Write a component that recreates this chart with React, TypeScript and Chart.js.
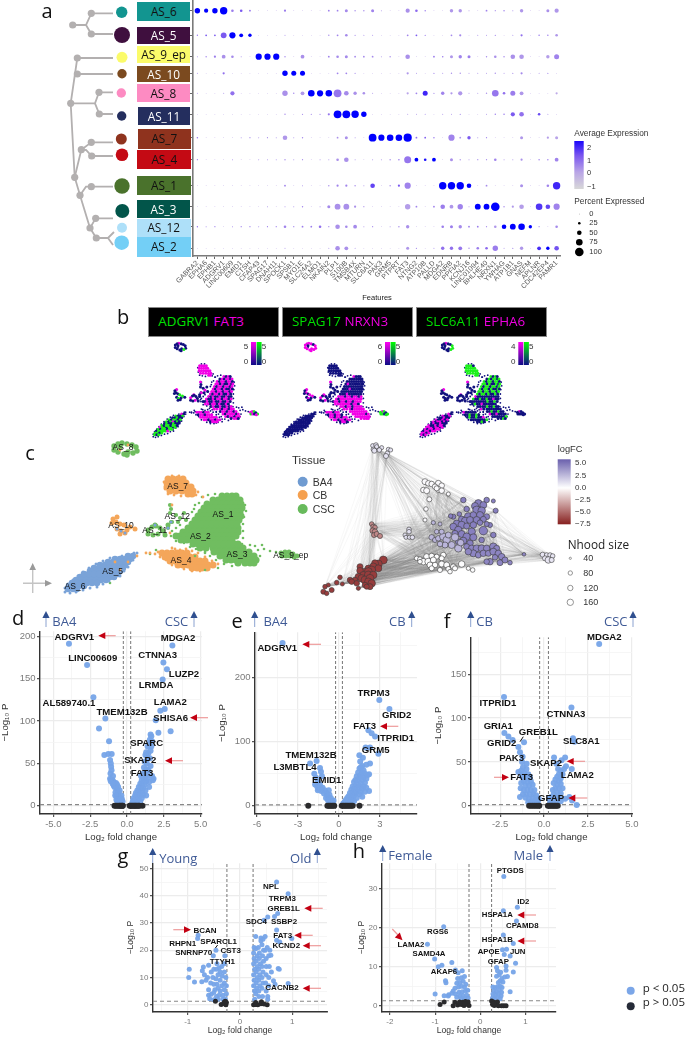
import React, { useEffect, useRef } from "react";
import { Chart, registerables } from "chart.js";

Chart.register(...registerables);
Chart.defaults.font.family = "'Liberation Sans', Arial, sans-serif";

// ---------- panel a : dot plot ----------
const genes = ["GABRA2","EPHA6","EPHB1","ADGRV1","LINC00609","EMID1","CTSH","CFAP43","SPAG17","DNAH11","SPOCK1","SPSB1","MYO1E","SLC24A2","ELMO1","NKAIN2","PLP1","S100B","TMSB4X","MTURN","SLC6A11","PAK3","GRM5","PTPRT","FAT3","NTNG2","ATP10B","PALLD","MDGA2","EDNRB","PPFIA2","KCNJ16","LINC01094","BHLHE40","NRXN1","YWHAG","ATP1B1","GNAS","NEFM","APLNR","CDC42EP4","PAMR1"];
const clusterNames = ["AS_6","AS_5","AS_9_ep","AS_10","AS_8","AS_11","AS_7","AS_4","AS_1","AS_3","AS_12","AS_2"];
const rowCentres = [10.7,35.3,56.7,73.3,93.3,114.3,137.7,159.7,185.7,206.7,226.7,248.3];
const as6Pct = [60,45,60,85,25,25,15,3,3,3,20,3,3,3,3,15,15,30,10,10,30,5,3,3,45,25,10,3,3,35,35,5,3,15,8,10,5,35,3,3,30,45];
const as6Expr = [2.4,2.4,2.4,2.4,.7,1.2,.8,0,0,0,.7,0,0,0,0,.6,.6,.5,.5,.5,.6,.3,0,0,.4,1,.8,0,0,.3,.3,.3,0,.6,.5,.7,.5,.3,0,0,.4,.3];
const as5Pct = [10,15,15,65,70,40,35,3,3,3,5,3,3,3,3,10,15,25,8,5,5,3,3,3,15,15,8,3,3,15,20,3,5,5,8,3,5,20,3,10,10,25];
const as5Expr = [.8,1.2,1.2,1.2,2.4,2.4,2.4,0,0,0,.5,0,0,0,0,.5,.6,.5,.5,.5,.5,0,0,0,.6,1.2,.8,0,0,.5,.5,0,.5,.5,.7,0,.5,.9,0,.9,.8,.3];
const as9Pct = [5,10,20,40,25,5,3,70,70,70,10,3,40,3,3,15,25,30,15,15,15,5,10,3,50,3,3,15,12,30,35,30,3,10,25,10,50,50,3,3,35,55];
const as9Expr = [.5,.6,.7,.4,.5,.5,0,2.4,2.4,2.4,.6,0,.4,0,0,.6,.5,.5,.5,.5,.5,.3,.5,0,.4,0,0,.7,.7,.3,.6,.7,0,.5,.4,.6,.4,.3,0,0,.2,.6];
const as10Pct = [5,3,3,20,3,3,3,3,3,3,60,55,55,3,3,3,15,15,8,3,3,3,3,3,20,5,3,8,5,10,10,5,5,5,10,5,8,20,3,5,8,3];
const as10Expr = [.5,0,0,.9,0,0,0,0,0,0,2.4,2.4,2.4,0,0,0,.6,.6,.5,0,0,0,0,0,.3,.5,0,.6,.5,.4,.4,.4,.4,.4,.4,.4,.4,.5,0,.4,.5,0];
const as8Pct = [5,3,3,5,45,3,3,3,3,3,60,10,40,75,70,75,90,50,35,25,5,3,3,3,20,15,55,8,35,20,45,5,5,10,75,25,55,40,3,3,3,20];
const as8Expr = [.4,0,0,.4,.9,0,0,0,0,0,.4,.6,.3,2.4,2.4,2.4,.8,.5,.4,.4,.4,0,0,0,.1,.6,1.9,.5,.6,.3,.3,.3,.3,.4,.8,.9,.7,.3,0,0,0,0];
const as11Pct = [3,3,3,3,3,3,3,3,3,3,10,3,8,8,8,20,90,90,85,60,3,3,3,3,5,5,5,3,5,5,8,3,3,5,10,10,45,50,3,25,5,3];
const as11Expr = [0,0,0,0,0,0,0,0,0,0,.5,0,.5,.5,.5,.8,2.4,2.4,2.4,2.4,0,0,0,0,.3,.3,.5,0,.4,.4,.5,0,0,.4,.7,.9,1.2,.9,0,1.4,.4,0];
const as7Pct = [12,3,3,3,3,5,8,5,8,5,50,5,10,3,3,3,15,30,5,3,90,70,75,75,95,15,15,10,3,70,15,35,5,8,3,3,3,30,3,3,20,30];
const as7Expr = [.8,0,0,0,0,.4,.5,.4,.5,.4,.3,.4,.5,0,0,0,.4,.4,.4,0,2.4,2.4,2.4,2.4,2.4,.9,1.1,.9,0,.6,.3,1.2,.5,.6,0,0,0,.3,0,0,.2,.1];
const as4Pct = [8,3,3,3,5,3,3,5,5,5,10,5,8,3,5,5,25,50,5,3,5,5,10,12,80,40,25,40,3,30,10,5,8,8,25,5,5,20,3,10,10,40];
const as4Expr = [.7,0,0,0,.4,0,0,.4,.4,.4,.5,.4,.5,0,.4,.4,.4,.4,.4,0,.4,.4,.5,.7,.8,2.4,2.2,2.4,0,.4,.3,.4,.5,.5,.6,.4,.4,.4,0,.7,.7,.6];
const as1Pct = [3,3,3,3,3,3,3,3,3,3,15,3,5,3,3,10,20,20,10,5,50,3,10,20,70,3,3,3,85,85,85,50,3,15,3,3,3,30,3,3,25,85];
const as1Expr = [0,0,0,0,0,0,0,0,0,0,.6,0,.4,0,0,.5,.6,.6,.5,.4,1.5,0,.5,1.2,.6,0,0,0,2.4,2.4,2.4,2.4,0,.5,0,0,0,.4,0,0,.6,1.9];
const as3Pct = [3,3,3,3,3,3,3,3,5,3,5,5,10,3,5,30,65,65,20,8,3,3,3,3,60,15,3,15,50,40,60,5,65,65,100,10,20,50,3,75,50,70];
const as3Expr = [0,0,0,0,0,0,0,0,.4,0,.4,.4,.6,0,.4,.5,.4,.4,.4,.4,0,0,0,0,.2,.6,0,.6,.7,.3,.6,.4,2.4,2.4,2.4,.5,.3,.2,0,1.7,1.5,.6];
const as12Pct = [10,5,8,3,5,8,8,5,8,8,25,8,15,15,25,8,50,25,40,5,8,3,5,10,35,3,3,3,25,30,35,15,15,8,25,50,65,75,35,8,3,25];
const as12Expr = [.9,.6,.7,0,.6,.7,.7,.6,.7,.7,.6,.7,.7,.7,.9,.6,.4,.5,.5,.4,.5,0,.4,.5,.4,0,0,0,.7,.7,.5,.7,.7,.5,.3,2.4,2.4,2.4,2.4,.5,0,.5];
const as2Pct = [3,3,3,3,3,3,3,3,3,3,5,3,3,3,3,5,50,40,5,3,3,3,3,3,30,8,3,5,35,35,40,10,25,25,60,5,8,35,3,40,35,50];
const as2Expr = [0,0,0,0,0,0,0,0,0,0,.4,0,0,0,0,.4,.4,.4,.4,0,0,0,0,0,.3,.6,0,.5,.9,.9,.8,.5,.7,1,.7,.4,.5,.3,0,1.8,2.4,1.3];
const pctRows = [as6Pct,as5Pct,as9Pct,as10Pct,as8Pct,as11Pct,as7Pct,as4Pct,as1Pct,as3Pct,as12Pct,as2Pct];
const exprRows = [as6Expr,as5Expr,as9Expr,as10Expr,as8Expr,as11Expr,as7Expr,as4Expr,as1Expr,as3Expr,as12Expr,as2Expr];

// ---------- panels b, c : UMAP points, rows of [umapY, umapX...] ----------
const as1Rows = [[496,222,227,232,236],[500,213,218,223,228,233,237,240],[504,207,212,217,222,227,232,237,241],[508,204,209,214,219,224,229,234,239,242],[512,201,206,211,216,221,226,231,236,240],[516,198,203,208,213,218,223,228,233,238,241],[520,195,200,205,210,215,220,225,230,235,239],[524,192,197,202,207,212,217,222,227,232,237]];
const as2Rows = [[528,188,193,198,203,208,213,218,223,228,233,238],[532,183,188,193,198,203,208,213,218,223,228,233,238],[536,176,180,185,190,195,200,205,210,215,220,225,230,236],[540,181,187,192,197,202,207,212,217,222,227,232],[544,193,198,204,209,214,219,224,229,234,238]];
const as3Rows = [[548,200,206,213,218,223,228,233,238,243],[552,214,219,224,229,234,239,244,249],[556,220,225,230,235,240,245,250,254],[560,226,231,236,241,246,251,256],[563,238,245,250,254]];
const as9Rows = [[552,285,289],[553,281],[554,293],[556,282,286,290,297],[557,294]];
const as4Rows = [[553,162,167,172,177,182,187],[557,165,170,175,180,185,190,195],[561,170,175,180,185,190,195,200,205],[565,178,183,188,193,198,203,208,213],[568,192,197,202,207]];
const as7Rows = [[479,168,173,178,183],[483,167,172,177,182,186],[487,167,172,177,182,187,191],[491,170,176,182,188,193],[494,188,192]];
const as8Rows = [[443,122],[444,118,127],[445,132],[446,114],[447,136,120],[450,114],[451,137],[452,118,128],[453,133],[454,124],[455,127]];
const as10Rows = [[517,117],[519,113],[522,116],[523,112],[524,120],[525,124],[529,117],[530,127],[531,121],[533,125],[534,120],[527,130],[529,135]];
const as11Rows = [[525,155,168],[526,156],[527,152],[528,160],[530,148],[531,163],[534,148,158],[535,153,165]];
const as12Rows = [[505,170],[509,171],[513,170,184],[515,176],[518,180],[520,186],[522,171,172,178],[528,168]];
const as5Rows = [[556,128,133],[559,115,120,125,130],[562,108,113,118,123,128],[565,100,105,110,115,120,125],[568,94,99,104,109,114,119,123],[571,90,95,100,105,110,115,120],[574,84,89,94,99,104,109,114,118]];
const as6Rows = [[577,80,85,90,95,100,105,110,114],[580,76,81,86,91,96,101,106],[583,72,77,82,87,92,97],[586,69,74,79,84],[589,68,73,77]];
const dustGreen = [[202,497],[208,495],[215,494],[195,505],[199,503],[192,512],[194,509],[186,520],[180,525],[176,528],[172,531],[245,505],[246,511],[244,517],[243,524],[243,531],[243,538],[242,544],[171,536],[176,541],[184,543],[190,547],[196,549],[205,552],[210,556],[216,560],[224,564],[232,566],[258,550],[262,545],[250,545],[255,546],[264,549],[270,551],[276,552],[260,556],[258,560],[195,556],[205,553],[218,568],[180,518],[205,570],[150,554],[156,550],[110,583]];
const dustOrange = [[150,553],[155,554],[158,552],[175,549],[180,550],[172,548],[186,549],[192,551],[198,553],[205,557],[212,561],[218,564],[160,557],[166,560],[172,565],[184,569],[192,571],[200,571],[209,569],[198,492],[203,497],[196,495],[164,482],[165,489],[168,494],[174,495],[181,496],[172,476],[179,476],[128,445],[120,450],[115,562],[120,570],[128,562],[137,556],[146,553],[170,533],[172,505]];
const dustBlue = [[117,529],[121,531],[125,533],[155,525],[171,522],[168,528],[137,553],[134,553],[122,556],[110,558],[103,561],[96,564],[89,568],[83,572],[78,576],[73,580],[68,584],[65,588],[65,592],[70,593],[76,592],[83,590],[90,588],[97,587],[103,584],[109,581],[115,578],[120,576],[124,571],[128,567],[133,560]];

const umapClusters = [
  { key: "as1", rows: as1Rows, tissue: "CSC", r: 3 },
  { key: "as2", rows: as2Rows, tissue: "CSC", r: 3 },
  { key: "as3", rows: as3Rows, tissue: "CSC", r: 3 },
  { key: "as9", rows: as9Rows, tissue: "CSC", r: 2 },
  { key: "as4", rows: as4Rows, tissue: "CB", r: 3 },
  { key: "as7", rows: as7Rows, tissue: "CB", r: 3 },
  { key: "as8", rows: as8Rows, tissue: "CSC", r: 2.2 },
  { key: "as10", rows: as10Rows, tissue: "CB", r: 2 },
  { key: "as11", rows: as11Rows, tissue: "CSC", r: 2 },
  { key: "as12", rows: as12Rows, tissue: "CSC", r: 1.6 },
  { key: "as5", rows: as5Rows, tissue: "BA4", r: 2.8 },
  { key: "as6", rows: as6Rows, tissue: "BA4", r: 2.8 },
];
// share of cells [background navy, magenta gene, green gene] in each cluster
const panelB1 = { as1:[.4,.6,0], as2:[.55,.45,0], as3:[.3,.7,0], as9:[.3,.5,.2], as4:[.15,.85,0], as7:[0,1,0], as8:[.8,.1,.1], as10:[.7,.05,.25], as11:[.7,.3,0], as12:[.7,.3,0], as5:[.5,.05,.45], as6:[.3,.05,.65] };
const panelB2 = { as1:[.95,.05,0], as2:[.2,.8,0], as3:[.05,.95,0], as9:[.1,.1,.8], as4:[.3,.7,0], as7:[1,0,0], as8:[.1,.9,0], as10:[.55,.45,0], as11:[.6,.4,0], as12:[.8,.2,0], as5:[1,0,0], as6:[1,0,0] };
const panelB3 = { as1:[.4,0,.6], as2:[.85,.05,.1], as3:[.8,.1,.1], as9:[.85,.1,.05], as4:[.75,.05,.2], as7:[.05,0,.95], as8:[.7,.05,.25], as10:[.9,.05,.05], as11:[.9,.05,.05], as12:[.8,.1,.1], as5:[.55,.45,0], as6:[.3,.7,0] };

// ---------- panel c right : neighbourhood graph, groups of [layoutX, layoutY, size] ----------
const nhTop = [[128,77,40],[138,75,50],[130,88,50],[143,85,40],[133,92,60],[155,83,40],[148,90,50],[175,88,40],[182,90,40],[172,100,50],[168,108,60],[140,80,40]];
const nh7 = [[285,185,80],[295,190,70],[305,192,70],[325,190,80],[335,197,70],[315,200,70],[325,208,80],[335,212,70],[280,210,70],[290,212,80],[320,205,60],[298,238,60],[355,222,40],[288,267,50],[285,300,40]];
const nh1 = [[400,240,70],[470,240,70],[490,243,40],[445,250,110],[435,258,100],[460,255,100],[410,267,70],[440,270,120],[455,272,110],[497,272,60],[388,282,50],[415,290,120],[430,285,90],[450,285,100],[470,290,80],[395,298,90],[405,302,100],[370,290,60],[362,288,50],[420,300,100],[440,300,100],[460,298,80],[380,310,90],[395,315,110],[410,318,80],[430,315,90],[450,308,70],[480,315,60],[470,312,60],[370,320,100],[385,330,110],[425,335,110],[460,332,130],[490,345,70],[375,340,80],[395,342,100],[410,350,110],[430,352,100],[455,360,70],[400,362,100],[385,365,80],[420,370,90]];
const nh2 = [[310,308,40],[330,312,40],[305,352,70],[315,360,60],[325,355,70],[340,350,110],[350,360,110],[355,345,80],[320,335,50],[335,335,60],[365,375,100],[345,375,80],[330,372,70],[385,385,110],[375,352,110],[392,368,90]];
const nh3 = [[410,380,80],[425,385,90],[440,385,100],[455,385,100],[470,385,90],[490,380,110],[500,385,80],[430,400,100],[445,405,80],[460,400,90],[415,395,90],[475,400,80],[490,395,100],[505,400,90],[515,410,90],[480,425,90],[470,425,70],[510,428,80],[525,420,80],[495,412,70],[540,428,50],[582,403,30]];
const nh4 = [[260,415,50],[270,418,60],[290,410,80],[305,408,70],[320,410,60],[280,425,90],[295,425,100],[310,420,80],[300,435,80],[315,435,70],[340,405,70],[335,415,60],[305,445,60],[335,432,80],[350,435,80],[370,440,70],[395,432,90],[355,447,60],[375,445,60],[415,445,40],[428,450,50],[330,450,60],[360,455,50],[270,425,50]];
const nh9 = [[638,404,60],[650,405,50],[660,405,50],[668,408,50],[645,415,60],[655,420,90],[665,420,60]];
const nh10 = [[237,328,50],[237,335,50],[225,345,40],[228,352,40],[238,352,40],[247,352,50]];
const nh8 = [[125,312,50],[130,320,60],[135,322,50],[128,332,70],[135,335,70],[132,345,60],[140,342,60],[150,348,60]];
const nh5 = [[160,420,120],[145,432,120],[135,430,100],[130,440,110],[90,440,80],[145,445,100],[115,445,90],[125,450,120],[105,455,100],[90,452,90],[115,455,120],[100,465,100],[115,465,120],[130,465,110],[85,470,90],[95,475,110],[105,480,120],[120,475,120],[115,485,110],[125,490,110],[120,500,80],[105,495,70],[110,500,60],[75,480,70],[60,480,70],[65,485,70],[80,490,70],[85,505,40],[30,472,50],[20,488,50],[37,492,40],[5,510,60],[-5,495,40],[-15,500,50],[-20,515,60],[-10,520,50]];
const nhGroups = [
  { nodes: nhTop, fc: 0.9 }, { nodes: nh7, fc: 0.15 }, { nodes: nh1, fc: 4 }, { nodes: nh2, fc: 2.3 },
  { nodes: nh3, fc: 3.8 }, { nodes: nh4, fc: 0.1 }, { nodes: nh9, fc: 0.8 }, { nodes: nh10, fc: 1 },
  { nodes: nh8, fc: -4 }, { nodes: nh5, fc: -6.5 },
];
const nhLinks = [[0,2],[0,3],[0,3],[0,5],[0,8],[1,2],[1,3],[1,4],[1,5],[1,3],[2,3],[2,4],[2,4],[2,5],[3,4],[3,5],[3,5],[4,5],[4,5],[8,2],[8,3],[8,5],[9,3],[9,4],[9,5],[9,5],[9,5],[9,2],[9,8],[6,2],[6,4],[6,5],[7,2],[7,3],[7,5],[7,1],[9,0]];

// ---------- volcano panels ----------
const dSig = [[-3.94,191],[-2.71,166],[-2.28,128],[-1.47,103],[-1.9,91],[-1.22,76],[-1.54,60],[-1.27,61],[-1.04,61],[-1.15,54],[-1.1,50],[-1.08,46],[-1.05,42],[-1.12,38],[-1.15,32],[-1.05,31],[-0.98,30],[-0.95,35],[-0.9,28],[-1.1,29],[-0.75,27],[-0.68,25],[-0.72,21],[-0.65,18],[-0.78,16],[-0.6,15],[-0.7,12],[-0.55,11],[-0.62,9],[-0.5,7],[-0.45,5],[-0.55,4],[-0.4,3],[-0.38,12],[-0.35,8],[-0.85,22],[-0.6,22],[-0.5,18],[-0.8,12],[-0.3,5],[-0.72,7],[-0.65,5],[-0.9,24],[-0.97,26],
  [3.08,189],[2.47,169],[2.71,161],[2.42,149],[2.56,114],[2.26,112],[1.95,101],[2.13,86],[2.96,88],
  [0.35,3],[0.4,6],[0.45,9],[0.5,5],[0.55,12],[0.6,8],[0.6,15],[0.65,11],[0.7,18],[0.7,6],[0.75,14],[0.8,22],[0.8,10],[0.85,18],[0.9,26],[0.9,13],[0.95,22],[1,30],[1,17],[1,9],[1.05,26],[1.1,34],[1.1,21],[1.1,13],[1.15,30],[1.2,38],[1.2,25],[1.25,34],[1.25,18],[1.3,43],[1.3,29],[1.35,50],[1.35,38],[1.4,33],[1.15,45],[1.2,52],[1.25,60],[1.35,58],[1.45,62],[1.3,63],[1.55,56],[1.6,65],[1.4,70],[1.5,73],[1.55,78],[1.6,84],[1.65,82],[1.7,76],[1.65,70],[1.6,47],[1.7,35],[1.75,30],[1.8,32],[1.5,28],[1.05,38],[0.95,35],[1.45,42],[1.5,22],[1.3,12],[0.9,5]];
const dNs = [[-0.85,0],[-0.75,0],[-0.65,0],[-0.55,0],[-0.48,0],[-0.4,0],[-0.33,0],[-0.28,0],[0.18,0],[0.25,0],[0.32,0],[0.4,0],[0.48,0],[0.55,0],[0.62,0],[0.7,0],[0.78,0],[0.85,0],[1.05,0]];
const eSig = [[-4.13,254],[-1.64,70],[-2.12,66],[-1.39,59],[-1.81,50],[-1.32,53],[-1.25,46],[-1.7,44],[-1.55,38],[-1.75,33],[-1.4,33],[-1.6,30],[-1.5,26],[-1.2,28],[-1.3,23],[-1.05,24],[-1.55,24],[-0.75,24],[-0.9,20],[-1.1,19],[-0.85,15],[-0.7,17],[-0.95,12],[-0.6,12],[-0.75,10],[-0.55,8],[-0.65,6],[-0.45,5],[-1.35,27],[-0.5,3],[-0.8,8],[-0.4,8],
  [2.95,165],[3.69,151],[2.15,118],[2.39,113],[2.64,108],[1.95,91],[2.88,81],[2.27,91],[1.49,79],[2.2,23],[2.27,66],[2.2,49],[1.55,69],[1.75,75],
  [0.3,3],[0.4,6],[0.5,9],[0.5,3],[0.6,12],[0.6,6],[0.7,15],[0.7,9],[0.8,20],[0.8,12],[0.8,5],[0.9,25],[0.9,16],[0.9,8],[1,30],[1,21],[1,12],[1.1,37],[1.1,27],[1.1,16],[1.1,7],[1.2,40],[1.2,30],[1.2,20],[1.3,46],[1.3,34],[1.3,22],[1.3,12],[1.4,52],[1.4,40],[1.4,27],[1.5,58],[1.5,44],[1.5,31],[1.5,18],[1.6,60],[1.6,48],[1.6,35],[1.6,22],[1.7,62],[1.7,52],[1.7,40],[1.7,27],[1.7,14],[1.8,55],[1.8,44],[1.8,30],[1.9,50],[1.9,36],[1.9,22],[2,64],[2,42],[2,28],[2.1,48]];
const eNs = [[-2.25,0],[-0.85,0],[-0.75,0],[-0.65,0],[-0.55,0],[-0.45,0],[-0.35,0],[0.2,0],[0.3,0],[0.4,0],[0.5,0],[0.6,0],[0.7,0],[0.8,0],[0.9,0],[1,0],[1.5,0]];
const fSig = [[-2.28,124],[-2.26,83],[-2.03,79],[-1.79,75],[-1.14,72.5],[-1.46,67],[-1.37,61],[-1.22,56],[-1.25,50],[-0.99,48],[-1.2,44],[-1,42],[-1.3,40],[-1.46,38.5],[-1.15,37],[-0.9,36],[-1.25,33],[-1,32],[-0.8,33],[-1.15,28],[-0.95,27],[-0.75,28],[-1.3,26],[-1.05,23],[-0.85,23],[-0.65,24],[-1.33,20],[-1.15,18],[-0.95,18],[-0.75,18],[-0.55,18],[-1.2,13],[-1,13],[-0.8,13],[-0.6,13],[-0.45,12],[-1.37,10],[-1.05,9],[-0.85,8],[-0.65,8],[-0.5,7],[-0.35,5],[-0.75,4],[-0.55,4],[-0.9,4],[-0.4,3],[-0.3,8],
  [3.14,184.5],[1.56,112],[1.65,77],[1.73,73],[0.57,55],[1.2,55],[1,52],[0.7,48],[1.14,42],[1.58,42],[0.95,40],[0.8,42],[1.25,45],[0.85,36],[1.05,36],[0.75,33],[0.95,31],[0.65,30],[0.85,28],[0.55,26],[0.75,24],[0.95,25],[0.65,20],[0.85,20],[1.05,20],[0.5,18],[0.75,15],[0.95,14],[0.55,13],[0.4,10],[0.65,10],[0.85,9],[1.44,10],[1.2,8],[1.6,6],[1.86,1],[0.45,5],[0.35,4],[0.7,5],[0.3,8],[0.95,5]];
const fNs = [[-0.85,0],[-0.75,0],[-0.65,0],[-0.55,0],[-0.45,0],[-0.35,0],[-0.27,0],[0.22,0],[0.3,0],[0.38,0],[0.46,0],[0.54,0],[0.62,0],[0.7,0],[0.78,0]];
const gSig = [[-.8,25.5],[-.81,24.3],[-.46,20],[-.29,18],[-.51,18],[-.6,14.5],[-.97,13],[-.98,10],[-.87,8.3],[-.73,8.4],[-.7,13.8],[-.72,12.5],[-.68,11],[-.62,10],[-.65,9],[-.55,12],[-.52,10],[-.5,13],[-.45,13],[-.4,13.5],[-.38,12],[-.42,11],[-.46,9.5],[-.56,8],[-.5,7.5],[-.44,7.5],[-.38,9],[-.34,10.5],[-.3,12],[-.27,10],[-.3,8],[-.35,7],[-.42,6],[-.48,5.5],[-.38,5],[-.3,5.5],[-.26,7],[-.26,4],[-.33,3.5],[-.4,3.5],[-.45,3],[-.55,3.8],[-.6,3.5],[-.58,2.2],[-.5,1.8],[-.42,2],[-.33,2],[-.28,2.2],[-.5,4.5],[-.6,5.5],[-.35,14],[-.3,15],[-.44,15],
  [.7,45],[.92,40.7],[.72,33.5],[.66,32.4],[.53,32.2],[.46,31],[.7,27.4],[.76,23],[.7,23.7],[.99,24.3],[.59,18.2],[.92,7.8],[.64,8.8],[.67,7.5],[.73,13.3],[.75,13],[.6,12],
  [.28,5],[.26,7],[.27,9],[.26,11],[.28,13],[.26,15],[.27,17],[.26,19],[.27,21],[.3,20.5],[.28,2],[.3,4],[.32,6],[.31,8],[.33,10],[.31,12],[.33,14],[.31,16],[.33,18],[.36,3],[.36,5],[.38,7],[.36,9],[.38,11],[.36,13],[.39,15],[.37,17],[.37,19],[.35,21],[.3,25],[.4,23.5],[.4,24.5],[.43,3],[.42,6],[.44,8],[.42,10],[.44,12],[.42,14],[.45,16],[.43,18],[.45,20],[.42,22],[.44,24],[.48,25],[.5,5],[.49,8],[.5,11],[.5,14],[.5,17],[.48,20],[.52,21],[.55,18],[.56,14],[.55,10],[.57,20],[.53,3],[.55,7],[.53,2]];
const gNs = [[-.47,1.3],[-.36,0.1],[-.3,1],[-.27,0],[-.29,0.4],[-.26,.8],[-.28,1.3],[.26,0],[.3,.1],[.3,.8],[.34,0],[.41,1.1],[.4,.4],[.52,0],[.46,.3]];
const hSig = [[-1.17,15.8],[-.81,20.3],[-1.01,12],[-.85,10.4],[-.93,10],[-.63,11.1],[-1,3],[-.8,2.6],[-.71,2.5],[-.77,6.4],[-.76,5.9],[-.4,9],[-.49,8.5],[-.55,9.2],[-.5,7],[-.42,7.2],[-.35,7.5],[-.52,5.8],[-.45,6],[-.38,6.3],[-.32,5.5],[-.56,4.5],[-.48,4.8],[-.42,5],[-.35,4.8],[-.6,3.8],[-.63,3.2],[-.55,3],[-.47,3.5],[-.4,3.6],[-.33,3.8],[-.28,4],[-.45,2.5],[-.38,2.6],[-.3,2.7],[-.52,2.2],[-.27,2],[-.35,1.9],[-.42,1.8],[-.7,2.8],
  [.52,33.2],[.82,25.3],[.51,24.4],[.8,21.8],[.51,18.2],[.73,16],[.49,14.4],[.58,14.5],[.53,13.2],[.66,12.8],[.78,10.9],[.57,10.2],[.36,9.8],[.73,8.7],[.57,9.1],[.66,3.6],
  [.28,4.8],[.33,4.6],[.38,4.9],[.44,5],[.48,4.7],[.3,3.8],[.36,3.6],[.42,3.9],[.47,3.5],[.28,3],[.34,2.8],[.4,3],[.46,2.6],[.27,2],[.32,2],[.38,2.1],[.44,1.8],[.4,6],[.44,6.4],[.48,7],[.5,6.1],[.36,7.6],[.42,8],[.54,7.4],[.6,7.5],[.45,8.6],[.38,9]];
const hNs = [[-.89,.3],[-.8,1],[-.6,0],[-.56,.9],[-.5,.2],[-.46,1],[-.42,.3],[-.39,.9],[-.36,.1],[-.33,1.1],[-.3,.4],[-.27,1],[-.25,.1],[-.34,.6],[-.44,.6],[.25,1.2],[.27,.4],[.29,1],[.31,.1],[.33,.8],[.36,.4],[.38,1],[.4,0],[.3,.6],[.47,0],[.52,0],[.57,0]];

// ---------- helpers ----------
const lerp = (a: number[], b: number[], t: number) => a.map((v, i) => Math.round(v + (b[i] - v) * t));
const exprStops: [number, number[]][] = [[-1,[211,211,211]],[0,[190,170,232]],[1,[140,105,238]],[2,[55,30,248]],[2.4,[0,0,255]]];
function exprColor(e: number) {
  for (let i = 1; i < exprStops.length; i++) {
    if (e <= exprStops[i][0]) {
      const [a, ca] = exprStops[i - 1], [b, cb] = exprStops[i];
      return `rgb(${lerp(ca, cb, (e - a) / (b - a)).join(",")})`;
    }
  }
  return "rgb(0,0,255)";
}
function fcColor(fc: number) {
  const c = fc >= 0 ? lerp([255,255,255],[105,95,175],Math.min(1,fc/5)) : lerp([255,255,255],[135,30,30],Math.min(1,-fc/7.5));
  return `rgb(${c.join(",")})`;
}
const flattenRows = (rows: number[][]) => rows.flatMap(([y, ...xs]) => xs.map((x) => ({ x, y })));
const pts = (a: number[][]) => a.map(([x, y]) => ({ x, y }));
const baseOptions = {
  responsive: false, animation: false, events: [],
  plugins: { legend: { display: false }, tooltip: { enabled: false } },
  layout: { autoPadding: false },
};

function dotConfig() {
  const data: any[] = [];
  pctRows.forEach((row, r) => row.forEach((p, g) => data.push({ x: genes[g], y: rowCentres[r], r: 0.3 + 0.04 * p, e: exprRows[r][g] })));
  return {
    type: "bubble",
    data: { labels: genes, datasets: [{ data, backgroundColor: (c: any) => exprColor(c.raw ? c.raw.e : 0), borderWidth: 0 }] },
    options: { ...baseOptions,
      scales: {
        x: { type: "category", labels: genes, offset: true,
          afterFit: (s: any) => { s.height = 46; s.paddingLeft = 0; s.paddingRight = 0; },
          border: { color: "#7a7a7a", width: 1.6 }, grid: { drawOnChartArea: false, tickLength: 3, color: "#666" },
          ticks: { autoSkip: false, minRotation: 45, maxRotation: 45, padding: 0, color: "#555", font: { size: 7 } },
          title: { display: true, text: "Features", color: "#222", padding: 0, font: { size: 7.5 } } },
        y: { type: "linear", reverse: true, min: 0, max: 256, afterFit: (s: any) => { s.width = 23; },
          afterBuildTicks: (s: any) => { s.ticks = rowCentres.map((value) => ({ value })); },
          border: { color: "#7a7a7a", width: 1.6 }, grid: { drawOnChartArea: false, tickLength: 3, color: "#666" },
          ticks: { display: false } },
      } },
  };
}

const hiddenScale = (min: number, max: number, reverse = false) => ({ type: "linear", min, max, reverse, display: false });
const umapScales = { x: hiddenScale(0, 340), y: hiddenScale(430, 610, true) };

function umapBConfig(shares: any) {
  const navy = "#11117e", mag = "#f200e6", green = "#1cf01c";
  const datasets: any[] = umapClusters.map((c) => {
    const data = flattenRows(c.rows);
    const [, m, g] = shares[c.key];
    const colors = data.map((_, i) => { const v = ((i * 13) % 20) / 20; return v < m ? mag : v < m + g ? green : navy; });
    return { data, pointBackgroundColor: colors, pointBorderWidth: 0, pointRadius: 1.5, showLine: false };
  });
  datasets.push({ data: pts([...dustGreen, ...dustOrange, ...dustBlue]), pointBackgroundColor: navy, pointBorderWidth: 0, pointRadius: 0.9, showLine: false });
  return { type: "scatter", data: { datasets }, options: { ...baseOptions, scales: umapScales } };
}

function umapCConfig() {
  const tissueColor: any = { BA4: "#7aa3d8", CB: "#f4a65a", CSC: "#70bd60" };
  const datasets: any[] = [
    { data: pts(dustOrange), pointBackgroundColor: tissueColor.CB, pointBorderWidth: 0, pointRadius: 1.4, order: 1 },
    { data: pts(dustBlue), pointBackgroundColor: tissueColor.BA4, pointBorderWidth: 0, pointRadius: 1.5, order: 1 },
    { data: pts(dustGreen), pointBackgroundColor: tissueColor.CSC, pointBorderWidth: 0, pointRadius: 1.3, order: 2 },
    ...umapClusters.map((c) => ({ data: flattenRows(c.rows), pointBackgroundColor: tissueColor[c.tissue], pointBorderWidth: 0, pointRadius: c.r + 0.5, order: 3 })),
  ];
  return { type: "scatter", data: { datasets }, options: { ...baseOptions, scales: umapScales } };
}

function nhoodConfig() {
  const edges: any[] = [];
  const pickEvery = (n: number) => (n > 10 ? 3 : 2);
  nhLinks.forEach(([a, b]) => {
    const A = nhGroups[a].nodes, B = nhGroups[b].nodes;
    for (let i = 0; i < A.length; i += pickEvery(A.length)) for (let j = 0; j < B.length; j += pickEvery(B.length)) {
      edges.push({ x: A[i][0], y: A[i][1] }, { x: B[j][0], y: B[j][1] }, { x: NaN, y: NaN });
    }
  });
  const nodes = nhGroups.flatMap((g) => g.nodes.map(([x, y, s]) => ({ x, y, s, fc: g.fc })));
  return {
    type: "scatter",
    data: { datasets: [
      { data: nodes, order: 1, showLine: false, pointRadius: (c: any) => 1.1 + (c.raw ? c.raw.s : 40) * 0.024,
        pointBackgroundColor: (c: any) => fcColor(c.raw ? c.raw.fc : 0), pointBorderColor: "#3a3a3a", pointBorderWidth: 0.6 },
      { data: edges, order: 2, showLine: true, spanGaps: false, pointRadius: 0, borderWidth: 0.7, tension: 0,
        borderColor: "rgba(130,130,130,.085)", segment: { borderColor: "rgba(130,130,130,.085)" } },
    ] },
    options: { ...baseOptions, scales: { x: hiddenScale(-30, 720), y: hiddenScale(0, 570, true) } },
  };
}

function volcanoConfig(p: any) {
  const major = (list: number[], v: number) => list.includes(v);
  const axis = (range: number[], majorT: number[], minorT: number[], fmt: (v: number) => string, fit: any, title: string) => ({
    type: "linear", min: range[0], max: range[1], afterFit: fit,
    afterBuildTicks: (s: any) => { s.ticks = [...majorT, ...minorT].sort((a, b) => a - b).map((value) => ({ value })); },
    border: { color: "#333", width: 1.4 },
    grid: { color: (c: any) => (major(majorT, c.tick?.value) ? "#ececec" : "#f4f4f4"), lineWidth: (c: any) => (major(majorT, c.tick?.value) ? 1.2 : 0.8),
      tickColor: (c: any) => (major(majorT, c.tick?.value) ? "#555" : "rgba(0,0,0,0)"), tickLength: 3 },
    ticks: { autoSkip: false, maxRotation: 0, padding: 1.5, color: "#7b7b7b", font: { size: p.tickSize },
      callback: (v: number) => (major(majorT, v) ? fmt(v) : "") },
    title: { display: true, text: title, color: "#333", padding: 0, font: { size: p.titleSize } },
  });
  const vLine = (x: number) => ({ data: [{ x, y: p.y[0] }, { x, y: p.y[1] }], showLine: true, pointRadius: 0, borderColor: "#666", borderWidth: 0.9, borderDash: [3, 2], order: 3 });
  return {
    type: "scatter",
    data: { datasets: [
      { data: pts(p.ns), order: 1, pointRadius: p.r, pointBackgroundColor: "#2a2a2c", pointBorderWidth: 0 },
      { data: pts(p.sig), order: 2, pointRadius: p.r, pointBackgroundColor: "rgba(118,164,232,.95)", pointBorderWidth: 0 },
      vLine(-0.25), vLine(0.25),
      { data: [{ x: p.x[0], y: 1.3 }, { x: p.x[1], y: 1.3 }], showLine: true, pointRadius: 0, borderColor: "#888", borderWidth: 1.1, borderDash: [4, 3], order: 3 },
    ] },
    options: { ...baseOptions, layout: { autoPadding: false, padding: { top: 6, right: 8 } },
      scales: {
        x: axis(p.x, p.xMajor, p.xMinor, p.xFmt, (s: any) => { s.height = p.xh; }, "Log₂ fold change"),
        y: axis(p.y, p.yMajor, p.yMinor, String, (s: any) => { s.width = p.yw; }, "−Log₁₀ P"),
      } },
  };
}
const fixed1 = (v: number) => v.toFixed(1);
const plain = (v: number) => String(v);
const panels = [
  { L: 40, R: 202, T: 630, B: 814, x: [-5.906,5.09], y: [-9.7,205.9], xMajor: [-5,-2.5,0,2.5,5], xMinor: [-3.75,-1.25,1.25,3.75], yMajor: [0,50,100,150,200], yMinor: [25,75,125,175], xFmt: fixed1, sig: dSig, ns: dNs, yw: 40, xh: 29, r: 3, tickSize: 9.5, titleSize: 9.6 },
  { L: 255, R: 417, T: 631, B: 814, x: [-6.15,5.71], y: [-12.9,270.9], xMajor: [-6,-3,0,3], xMinor: [-4.5,-1.5,1.5,4.5], yMajor: [0,100,200], yMinor: [50,150,250], xFmt: plain, sig: eSig, ns: eNs, yw: 38, xh: 29, r: 3, tickSize: 9.5, titleSize: 9.6 },
  { L: 471, R: 632, T: 636, B: 814, x: [-4.16,5.01], y: [-9.4,192.2], xMajor: [-2.5,0,2.5,5], xMinor: [-3.75,-1.25,1.25,3.75], yMajor: [0,50,100,150], yMinor: [25,75,125,175], xFmt: fixed1, sig: fSig, ns: fNs, yw: 38, xh: 29, r: 3, tickSize: 9.5, titleSize: 9.6 },
  { L: 153, R: 327, T: 863, B: 1012, x: [-1.663,1.663], y: [-2.67,51.9], xMajor: [-1,0,1], xMinor: [-1.5,-.5,.5,1.5], yMajor: [0,10,20,30,40,50], yMinor: [5,15,25,35,45], xFmt: plain, sig: gSig, ns: gNs, yw: 28, xh: 24, r: 2.5, tickSize: 8, titleSize: 8.6 },
  { L: 382, R: 556, T: 863, B: 1012, x: [-2.175,1.675], y: [-1.6,36.6], xMajor: [-2,-1,0,1], xMinor: [-1.5,-.5,.5,1.5], yMajor: [0,10,20,30], yMinor: [5,15,25,35], xFmt: plain, sig: hSig, ns: hNs, yw: 26, xh: 24, r: 2.5, tickSize: 8, titleSize: 8.6 },
];

function ChartCanvas({ make, left, top, width, height }: any) {
  const ref = useRef<HTMLCanvasElement>(null);
  useEffect(() => {
    const chart = new Chart(ref.current as any, make());
    return () => chart.destroy();
  }, []);
  return <canvas ref={ref} width={width} height={height} style={{ position: "absolute", left, top, width, height }} />;
}

const R_FONT = "'Liberation Sans', Arial, sans-serif";
const PPT_FONT = "'Open Sans', 'Noto Sans', sans-serif";
function T({ x, y, s, c = "#111", b = false, f = R_FONT, left = false, children }: any) {
  return <span style={{ position: "absolute", left: x, top: y, transform: left ? "translateY(-50%)" : "translate(-50%,-50%)", fontSize: s, color: c, fontWeight: b ? 700 : 400, fontFamily: f, whiteSpace: "nowrap", lineHeight: 1 }}>{children}</span>;
}

// ---------- layout of the annotations ----------
const boxGeometry = [
  [137.3,1.7,53,19,"#129590","#111"],[137,27,53.3,16.7,"#3f0f3e","#fff"],[137,46,53.3,17.3,"#fbfb6a","#111"],
  [137,65.7,53.3,16.6,"#7b4a1f","#fff"],[136.7,83.7,53.3,18.3,"#fd8bc2","#111"],[137.7,106.7,52.6,18.3,"#242e5e","#fff"],
  [137.7,129.3,53.3,19.4,"#8f331e","#111"],[137.3,150.3,54,18.7,"#c40a14","#111"],[136.7,175.7,54.6,19.6,"#4a722c","#111"],
  [136.7,200,53.6,18.3,"#02554a","#fff"],[136.7,219,54,17.7,"#aee0f9","#111"],[137,237.3,53.6,19.7,"#73cff6","#111"],
] as any[];
const leafDots = [[121.7,12.3,5.7,"#129590"],[122,35,8,"#3f0f3e"],[122,57.3,5.5,"#fbfb6a"],[122,73.7,4.7,"#7b4a1f"],[121.3,93,4.7,"#fd8bc2"],[121.7,116,4.7,"#242e5e"],[121.3,139,5.5,"#8f331e"],[122,154.7,6.3,"#c40a14"],[122,186,7.7,"#4a722c"],[122.3,211,7,"#02554a"],[122,227.7,5,"#aee0f9"],[121.7,242.7,7.3,"#73cff6"]] as any[];
const treeLines = ["M72.7 25H86L91.3 13.3H113","M86 25L91.3 34H113","M77.3 58H113","M77.3 58L70.7 103.3L74.7 177.3","M77.3 74H113","M70.7 103.3H95L99 92.3H113","M95 103.3L99.3 114H113","M74.7 177.3L81.3 149.7L91.3 142.3H113","M81.3 149.7L86 150L91.7 156H113","M74.7 177.3L80 195.3L86 186.7H113","M80 195.3L90 228L95.7 218.3H113","M90 228L96.3 238H108L114 232","M108 238L113 245"];
const treeNodes = [[72.7,25],[91.3,13.3],[91.3,34],[77.3,58],[77.3,74],[70.7,103.3],[99,92.3],[99.3,114],[74.7,177.3],[81.3,149.7],[91.3,142.3],[91.7,156],[80,195.3],[91.3,186.7],[90,228],[95.7,218.3],[96.3,238]];
const volcanoLabels = [
  ["ADGRV1",74.3,636.7,9.6],["LINC00609",92.7,657.7,9.6],["AL589740.1",69,702.7,9.6],["TMEM132B",122,712.3,9.6],["MDGA2",178,638.3,9.6],["CTNNA3",157.7,655.3,9.6],["LUZP2",184,673.7,9.6],["LRMDA",156,685,9.6],["LAMA2",170.3,702.3,9.6],["SHISA6",170.7,717.7,9.6],["SPARC",146.7,742.7,9.6],["SKAP2",140.3,760,9.6],["FAT3",142,773.3,9.6],
  ["ADGRV1",277.3,648.3,9.6],["TRPM3",373.7,693,9.6],["GRID2",396.7,715,9.6],["FAT3",364.7,726.3,9.6],["ITPRID1",395.7,738.3,9.6],["GRM5",375.7,749.7,9.6],["TMEM132B",311,755,9.6],["L3MBTL4",295,767.3,9.6],["EMID1",326.7,780,9.6],
  ["MDGA2",604.3,636.7,9.6],["ITPRID1",498,702.7,9.6],["CTNNA3",566,713.7,9.6],["GRIA1",498.3,726,9.6],["GREB1L",538.3,731.7,9.6],["GRID2",501.7,743,9.6],["SLC8A1",581.3,741.3,9.6],["PAK3",511.7,758,9.6],["SKAP2",546,763.3,9.6],["FAT3",521.7,776.7,9.6],["LAMA2",577.3,774.7,9.6],["GFAP",551,798,9.6],
  ["NPL",271,887.3,8],["TRPM3",282.3,898.7,8],["GREB1L",283.7,908.7,8],["SDC4",256.3,922,8],["SSBP2",284,922,8],["BCAN",205,930.7,8],["FAT3",282.7,935.7,8],["KCND2",286.3,946,8],["SPARCL1",218.7,941.7,8],["RHPN1",182.7,943.7,8],["CST3",230.7,950.7,8],["SNRNP70",193.7,953,8],["TTYH1",222.3,962.3,8],["CACNB2",282,988.3,8],
  ["PTGDS",510.3,871,7.8],["ID2",523.3,902.3,7.8],["HSPA1A",497.3,915,7.8],["CPAMD8",522.3,926,7.8],["RGS6",437.7,932,7.8],["HSPA1B",497.3,940.3,7.8],["LAMA2",411,945,7.8],["SAMD4A",429,954.3,7.8],["APOE",488.7,952.3,7.8],["JUN",517.7,952.3,7.8],["GFAP",498.3,961.7,7.8],["AKAP6",444,972.3,7.8],
] as any[];
const umapLabels = [["AS_8",123,446.7],["AS_7",177.7,485.7],["AS_12",177.3,515.7],["AS_1",223,514],["AS_10",121,524.7],["AS_11",154.7,530],["AS_2",200.3,536],["AS_3",237,553.7],["AS_9_ep",290.7,554.7],["AS_4",181,560],["AS_5",112.7,571],["AS_6",75,585.7]] as any[];
const panelLetters = [["a",47,11],["b",123,317],["c",30,453],["d",18,618],["e",237,621],["f",447,621],["g",123,856],["h",359,851]] as any[];
const groupHeads = [["BA4",64.3,621,13],["CSC",176.5,621,13],["BA4",275.5,621,13],["CB",397.3,621,13],["CB",484.5,621,13],["CSC",615.8,621,13],["Young",178.3,857.5,13],["Old",300.8,857.5,13],["Female",410.3,855,13],["Male",528.3,855,13]] as any[];
const upArrows = [[46,611,627],[194,611,627],[254.7,611,627],[411.7,611,627],[470.7,611,627],[633,611,627],[152.7,848,863],[317.3,848,863],[382.7,845,861],[550,845,861]];
const leftArrows = [[98.3,635.7,115.7],[190,717.7,208],[165,760.7,183],[302.3,644.3,321],[380,726.3,398.3],[566.7,761.3,585],[568.3,798,587.3],[304.3,908.3,322.7],[294.3,935.3,312.7],[302.7,945.7,321],[302.7,988.3,321],[517.3,915,536],[517.3,941,536]];
const rightArrows = [[509,777.3,494],[191,929.7,173.3]];
const headerBoxes = [[148.3,"ADGRV1","FAT3"],[282,"SPAG17","NRXN3"],[416,"SLC6A11","EPHA6"]] as any[];
const miniBars = [[251,"5","5"],[385,"6","5"],[518.3,"4","5"]] as any[];
const exprTicks = [["2",147.7],["1",160.7],["0",173.3],["−1",186.7]] as any[];
const pctLegend = [["0",214,.3],["25",223.3,1.3],["50",232.7,2.3],["75",242.3,3.3],["100",252,4.3]] as any[];
const fcTicks = [["5.0",463.3],["2.5",475.7],["0.0",487.7],["−2.5",500],["−5.0",512],["−7.5",524.3]] as any[];
const nhSizes = [["40",558.3,1.1],["80",573,2.2],["120",588,2.7],["160",602.3,3.2]] as any[];
const tissueLegend = [["BA4",481.7,"#6f9bd1"],["CB",495,"#f5a04f"],["CSC",509,"#68ba5c"]] as any[];

export default function App() {
  return (
    <div style={{ position: "absolute", left: 0, top: 0, width: 685, height: 1037, overflow: "hidden", background: "#fff", fontFamily: R_FONT }}>
      <ChartCanvas make={dotConfig} left={170} top={0} width={391} height={302} />
      <ChartCanvas make={() => umapBConfig(panelB1)} left={124} top={335} width={153} height={113} />
      <ChartCanvas make={() => umapBConfig(panelB2)} left={254} top={335} width={153} height={113} />
      <ChartCanvas make={() => umapBConfig(panelB3)} left={391} top={335} width={153} height={113} />
      <ChartCanvas make={umapCConfig} left={0} top={430} width={340} height={180} />
      <ChartCanvas make={nhoodConfig} left={320} top={420} width={250} height={190} />
      {panels.map((p, i) => (
        <ChartCanvas key={i} make={() => volcanoConfig(p)} left={p.L - p.yw} top={p.T - 6} width={p.yw + (p.R - p.L) + 8} height={6 + (p.B - p.T) + p.xh} />
      ))}

      <svg width={685} height={1037} style={{ position: "absolute", left: 0, top: 0, pointerEvents: "none" }}>
        <defs>
          <linearGradient id="gExpr" x1="0" y1="0" x2="0" y2="1"><stop offset="0" stopColor="#1a06fb" /><stop offset=".3" stopColor="#7a55ef" /><stop offset=".65" stopColor="#b9a5e6" /><stop offset="1" stopColor="#d8d8d8" /></linearGradient>
          <linearGradient id="gFc" x1="0" y1="0" x2="0" y2="1"><stop offset="0" stopColor="#6a60ad" /><stop offset=".44" stopColor="#ffffff" /><stop offset="1" stopColor="#87201f" /></linearGradient>
          <linearGradient id="gMag" x1="0" y1="0" x2="0" y2="1"><stop offset="0" stopColor="#ff00f0" /><stop offset="1" stopColor="#0c0c86" /></linearGradient>
          <linearGradient id="gGrn" x1="0" y1="0" x2="0" y2="1"><stop offset="0" stopColor="#00ff00" /><stop offset="1" stopColor="#0c0c86" /></linearGradient>
        </defs>
        {treeLines.map((d, i) => <path key={i} d={d} fill="none" stroke="#b3b0b0" strokeWidth={1.8} />)}
        {treeNodes.map(([x, y], i) => <circle key={i} cx={x} cy={y} r={3.6} fill="#b3b0b0" />)}
        {leafDots.map(([x, y, r, c], i) => <circle key={i} cx={x} cy={y} r={r} fill={c} />)}
        <rect x={574.3} y={141} width={9.4} height={48} fill="url(#gExpr)" />
        {pctLegend.map(([, y, r], i) => <circle key={i} cx={579.3} cy={y} r={r} fill="#000" />)}
        {miniBars.map(([x], i) => <g key={i}><rect x={x} y={342} width={5} height={23} fill="url(#gMag)" /><rect x={x + 5.6} y={342} width={5} height={23} fill="url(#gGrn)" /></g>)}
        <rect x={557.7} y={459.3} width={13} height={65} fill="url(#gFc)" />
        {nhSizes.map(([, y, r], i) => <circle key={i} cx={570.3} cy={y} r={r} fill="#fff" stroke="#888" strokeWidth={0.9} />)}
        {tissueLegend.map(([, y, c], i) => <circle key={i} cx={302.7} cy={y} r={5} fill={c} />)}
        <path d="M23 583.3H46M32.7 568V593" stroke="#c4c4c4" strokeWidth={1.4} fill="none" />
        <path d="M52 583.3L45 580V586.6Z M32.7 563L29.4 570H36Z" fill="#9a9a9a" />
        {upArrows.map(([x, a, b], i) => <g key={i}><path d={`M${x} ${a + 6}V${b}`} stroke="#8ba2d0" strokeWidth={1} /><path d={`M${x} ${a}L${x - 3.6} ${a + 7}H${x + 3.6}Z`} fill="#2f4f8f" /></g>)}
        {leftArrows.map(([tip, y, tail], i) => <g key={i}><path d={`M${tip + 6} ${y}H${tail}`} stroke="#ee9a9a" strokeWidth={1.2} /><path d={`M${tip} ${y}L${tip + 7} ${y - 3.4}V${y + 3.4}Z`} fill="#c30012" /></g>)}
        {rightArrows.map(([tip, y, tail], i) => <g key={i}><path d={`M${tip - 6} ${y}H${tail}`} stroke="#ee9a9a" strokeWidth={1.2} /><path d={`M${tip} ${y}L${tip - 7} ${y - 3.4}V${y + 3.4}Z`} fill="#c30012" /></g>)}
        <path d="M392.3 929L398 935" stroke="#ee9a9a" strokeWidth={1.2} /><path d="M402.5 940.3L394.8 937.4L399.8 932.4Z" fill="#c30012" />
        <path d="M523.3 736.7L520 741.7M217.6 945L215.4 948" stroke="#111" strokeWidth={1} />
        <circle cx={630.7} cy={990.7} r={4} fill="#7ba6e8" /><circle cx={630.7} cy={1006.3} r={4} fill="#262b38" />
      </svg>

      {clusterNames.map((name, i) => {
        const [x, y, w, h, bg, fg] = boxGeometry[i];
        return <div key={i} style={{ position: "absolute", left: x, top: y, width: w, height: h, background: bg, color: fg, fontFamily: PPT_FONT, fontSize: 11.8, lineHeight: `${h}px`, textAlign: "center", boxSizing: "border-box", whiteSpace: "nowrap" }}>{name}</div>;
      })}
      <T x={574.3} y={133} s={8.3} c="#333" left>Average Expression</T>
      {exprTicks.map(([t, y], i) => <T key={i} x={587} y={y} s={7.5} c="#333" left>{t}</T>)}
      <T x={574.3} y={201} s={8.3} c="#333" left>Percent Expressed</T>
      {pctLegend.map(([t, y], i) => <T key={i} x={589.3} y={y} s={7.5} c="#333" left>{t}</T>)}

      {headerBoxes.map(([x, g1, g2], i) => (
        <div key={i} style={{ position: "absolute", left: x, top: 307.3, width: 130.7, height: 29.4, background: "#000", boxSizing: "border-box", border: "1px solid #888", paddingLeft: 9, fontFamily: PPT_FONT, fontSize: 13.4, lineHeight: "27px", whiteSpace: "nowrap" }}>
          <span style={{ color: "#00e000" }}>{g1}</span> <span style={{ color: "#ef00e0" }}>{g2}</span>
        </div>
      ))}
      {miniBars.map(([x, a, b], i) => (
        <React.Fragment key={i}>
          <T x={x - 5} y={346.7} s={8} c="#333">{a}</T><T x={x - 5} y={361.7} s={8} c="#333">0</T>
          <T x={x + 13} y={346.7} s={8} c="#333">{b}</T><T x={x + 13} y={361.7} s={8} c="#333">0</T>
        </React.Fragment>
      ))}

      {umapLabels.map(([t, x, y], i) => <T key={i} x={x} y={y} s={8.5} c="#111">{t}</T>)}
      <T x={292} y={461} s={11.5} c="#333" left>Tissue</T>
      {tissueLegend.map(([t, y], i) => <T key={i} x={312.7} y={y} s={10.5} c="#333" left>{t}</T>)}
      <T x={557.7} y={450} s={9.3} c="#333" left>logFC</T>
      {fcTicks.map(([t, y], i) => <T key={i} x={575} y={y} s={8} c="#333" left>{t}</T>)}
      <T x={567.7} y={545} s={11.8} c="#222" left f={PPT_FONT}>Nhood size</T>
      {nhSizes.map(([t, y], i) => <T key={i} x={583.3} y={y} s={9} c="#333" left>{t}</T>)}

      {volcanoLabels.map(([t, x, y, s], i) => <T key={i} x={x} y={y} s={s} b c="#111">{t}</T>)}
      {groupHeads.map(([t, x, y, s], i) => <T key={i} x={x} y={y} s={s} c="#3f5a96" f={PPT_FONT}>{t}</T>)}
      {panelLetters.map(([t, x, y], i) => <T key={i} x={x} y={y} s={20} c="#111" f={PPT_FONT}>{t}</T>)}
      <T x={642.7} y={988} s={11.5} c="#222" left f={PPT_FONT}>p &lt; 0.05</T>
      <T x={642.7} y={1001.7} s={11.5} c="#222" left f={PPT_FONT}>p &gt; 0.05</T>
    </div>
  );
}
